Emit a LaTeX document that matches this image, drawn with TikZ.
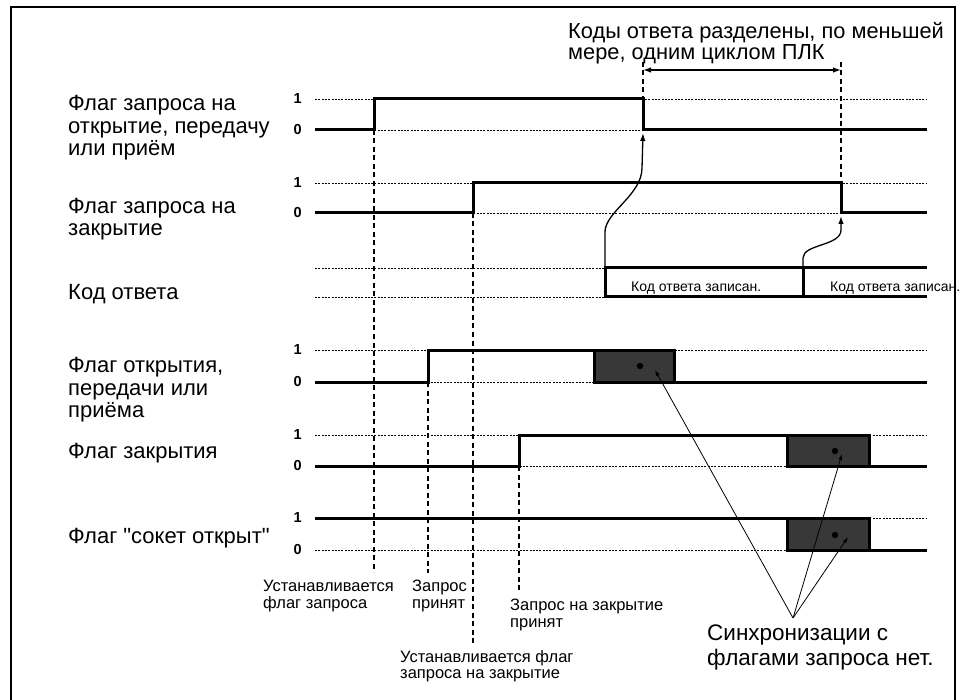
\documentclass[tikz,border=0pt]{standalone}
\usepackage{fontspec}
\setmainfont{Liberation Sans}
\usetikzlibrary{arrows.meta}
\newcommand{\strq}{\XeTeXglyph\numexpr\XeTeXcharglyph"22\relax}
\begin{document}
\begin{tikzpicture}[x=1pt,y=-1pt,
  sig/.style={line width=3pt,line join=miter,line cap=butt},
  lvl/.style={line width=0.9pt,dash pattern=on 2pt off 1.3pt},
  vdash/.style={line width=1.5pt,dash pattern=on 5pt off 3.5pt},
  lbl/.style={anchor=west,align=left,inner sep=0pt,font=\fontsize{22}{22.5}\selectfont},
  note/.style={anchor=west,align=left,inner sep=0pt,font=\fontsize{16.5}{16.5}\selectfont},
  code/.style={anchor=west,inner sep=0pt,font=\fontsize{14}{15}\selectfont},
  num/.style={anchor=east,inner sep=0pt,font=\fontsize{14.5}{15}\selectfont\bfseries},
  busybox/.style={fill=black!78,draw=black,line width=3pt},
  curvarrow/.style={line width=1.3pt,-{Latex[length=8pt,width=5.5pt]}},
  syncline/.style={line width=0.8pt,-{Latex[length=6pt,width=4pt]}},
]
\useasboundingbox (0,0) rectangle (963,700);
% frame
\draw[line width=1.4pt] (11,700) -- (11,7) -- (955,7) -- (955,700);

% level lines
\foreach \y in {99,130,183,213,268,297,350,382,435,466,518,550}
  \draw[lvl] (315,\y) -- (927,\y);

% numbers
\foreach \a/\b in {99/130,183/213,350/382,435/466,518/550}{
  \node[num] at (302,\a) {1};
  \node[num] at (302,\b) {0};
}

% dashed verticals
\draw[vdash] (374,130) -- (374,572);
\draw[vdash] (428,382) -- (428,573);
\draw[vdash] (473,213) -- (473,643);
\draw[vdash] (519,466) -- (519,590);
\draw[vdash] (643,62) -- (643,130);
\draw[vdash] (841,62) -- (841,213);

% interval arrow
\coordinate (ia) at (643,70);
\coordinate (ib) at (841,70);
\draw[line width=1.3pt,{Latex[length=8pt,width=5.5pt]}-{Latex[length=8pt,width=5.5pt]}] (ia) -- (ib);

% signals
\draw[sig] (315,130) -- (374,130) -- (374,99) -- (643,99) -- (643,130) -- (927,130);
\draw[sig] (315,213) -- (473,213) -- (473,183) -- (841,183) -- (841,213) -- (927,213);
\draw[sig] (927,268) -- (605,268) -- (605,297) -- (927,297);
\draw[sig] (803,268) -- (803,297);
\draw[busybox] (594,350) rectangle (674,382);
\draw[sig] (315,382) -- (428,382) -- (428,350) -- (594,350);
\draw[sig] (674,382) -- (927,382);
\draw[busybox] (787,435) rectangle (869,466);
\draw[sig] (315,466) -- (519,466) -- (519,435) -- (787,435);
\draw[sig] (869,466) -- (927,466);
\draw[busybox] (787,518) rectangle (869,550);
\draw[sig] (315,518) -- (787,518);
\draw[sig] (869,550) -- (927,550);

% dots in boxes
\fill (640,366) circle (3.2pt);
\fill (835,451) circle (3.2pt);
\fill (835,535) circle (3.2pt);

% curved arrows from code
\coordinate (c1) at (605,268);
\coordinate (t1) at (643,133);
\coordinate (c2) at (803,268);
\coordinate (t2) at (841,216);
\draw[curvarrow] (c1) -- (605,232) .. controls (605,212) and (642,195) .. (642,168) -- (t1);
\draw[curvarrow] (c2) -- (803,258) .. controls (803,244) and (841,246) .. (841,230) -- (t2);

% sync lines
\coordinate (apex) at (793,618);
\coordinate (s1) at (655,370);
\coordinate (s2) at (842,454);
\coordinate (s3) at (848,537);
\draw[syncline] (apex) -- (s1);
\draw[syncline] (apex) -- (s2);
\draw[syncline] (apex) -- (s3);

% left labels
\node[lbl] (l1) at (68,128) {Флаг запроса на\\открытие, передачу\\или приём};
\node[lbl] (l2) at (68,219) {Флаг запроса на\\закрытие};
\node[lbl] (l3) at (68,294) {Код ответа};
\node[lbl] (l4) at (68,390) {Флаг открытия,\\передачи или\\приёма};
\node[lbl] (l5) at (68,453) {Флаг закрытия};
\node[lbl] (l6) at (68,538) {Флаг \strq сокет открыт\strq};

% code texts
\node[code] (k1) at (631,288) {Код ответа записан.};
\node[code] (k2) at (830,288) {Код ответа записан.};

% top note
\node[anchor=west,align=left,inner sep=0pt,font=\fontsize{21.8}{21.5}\selectfont] (top) at (568,43) {Коды ответа разделены, по меньшей\\мере, одним циклом ПЛК};

% bottom notes
\node[note] (b1) at (263,596) {Устанавливается\\флаг запроса};
\node[note] (b2) at (412,596) {Запрос\\принят};
\node[note] (b3) at (400,666) {Устанавливается флаг\\запроса на закрытие};
\node[note] (b4) at (510,615) {Запрос на закрытие\\принят};
\node[anchor=west,align=left,inner sep=0pt,font=\fontsize{22.5}{25}\selectfont] (sync) at (707,647) {Синхронизации с\\флагами запроса нет.};
\end{tikzpicture}
\end{document}
